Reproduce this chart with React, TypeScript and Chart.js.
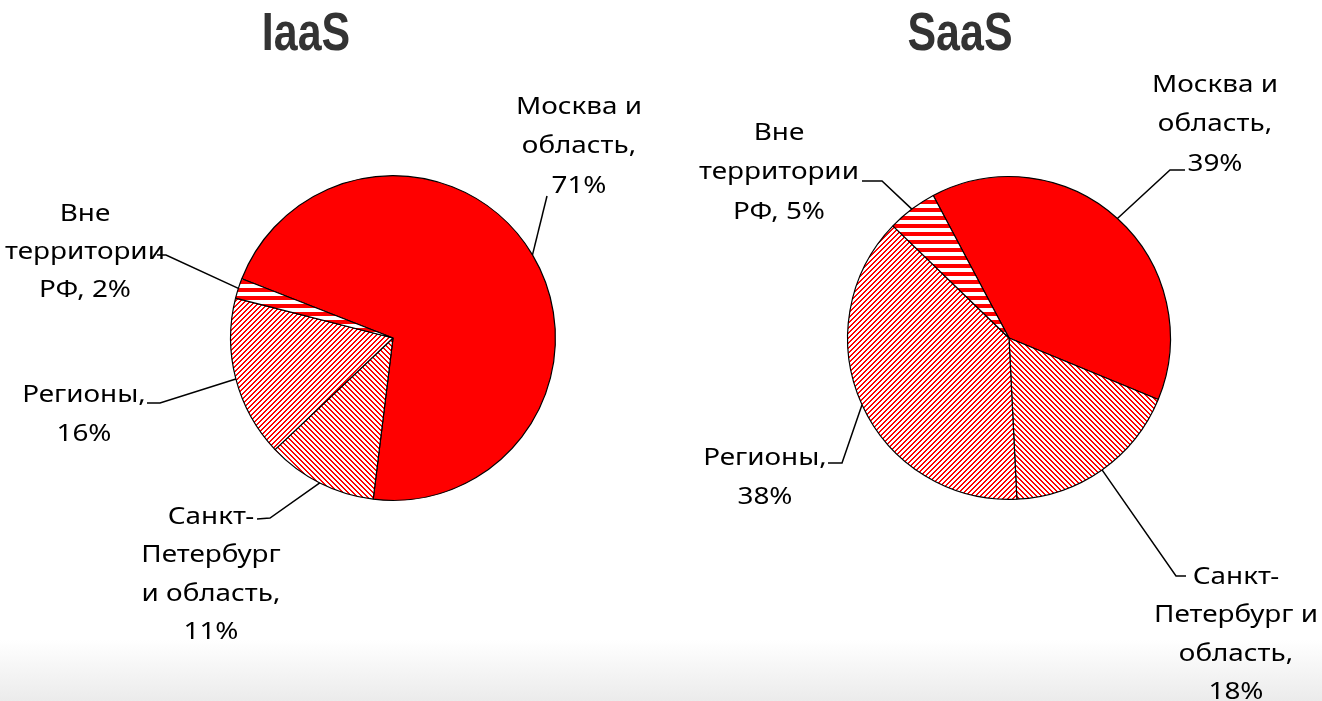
import React, { useEffect, useRef } from 'react';
import { Chart, registerables } from 'chart.js';
Chart.register(...registerables);

// ---- data ----
const categories = ['Москва и область', 'Санкт-Петербург и область', 'Регионы', 'Вне территории РФ'];
const iaasValues = [71, 11, 16, 2];
const saasValues = [39, 18, 38, 5];
const iaasLabelLines = [
  ['Москва и', 'область,', '{v}%'],
  ['Санкт-', 'Петербург', 'и область,', '{v}%'],
  ['Регионы,', '{v}%'],
  ['Вне', 'территории', 'РФ, {v}%'],
];
const saasLabelLines = [
  ['Москва и', 'область,', '{v}%'],
  ['Санкт-', 'Петербург и', 'область,', '{v}%'],
  ['Регионы,', '{v}%'],
  ['Вне', 'территории', 'РФ, {v}%'],
];

// ---- layout (positions / styles) ----
const W = 1322;
const H = 701;
const RED = '#ff0000';
const LABEL_FONT = '24px "Noto Sans"';
const LABEL_REF_TEXT = 'Москва и';
const LABEL_REF_WIDTH = 126;
const TITLE_FONT = 'bold 53px "Liberation Sans"';
const TITLE_SX = 0.81;

type LabelPos = { x: number; ys: number[]; leader: number[][] };
const iaasLayout = {
  title: 'IaaS',
  titleX: 306,
  titleY: 50,
  rotation: -68.6,
  padding: { left: 230, right: W - 556, top: 175, bottom: H - 501 },
  labels: [
    { x: 579, ys: [114, 153, 193], leader: [[547, 196]] },
    { x: 211, ys: [524, 562, 601, 639], leader: [[257, 519], [270, 518]] },
    { x: 84, ys: [402, 441], leader: [[147, 403], [160, 403]] },
    { x: 85, ys: [221, 259, 297], leader: [[157, 255], [166, 255]] },
  ] as LabelPos[],
};
const saasLayout = {
  title: 'SaaS',
  titleX: 960,
  titleY: 50,
  rotation: -28,
  padding: { left: 847, right: W - 1171, top: 176, bottom: H - 500 },
  labels: [
    { x: 1215, ys: [92, 131, 171], leader: [[1185, 170], [1170, 170]] },
    { x: 1236, ys: [584, 622, 661, 699], leader: [[1186, 576], [1176, 576]] },
    { x: 765, ys: [465, 504], leader: [[828, 463], [842, 463]] },
    { x: 779, ys: [140, 179, 219], leader: [[862, 181], [882, 181]] },
  ] as LabelPos[],
};

function makePattern(kind: 'h' | 'up' | 'down'): CanvasPattern | string {
  const c = document.createElement('canvas');
  const n = kind === 'h' ? 8 : 5;
  c.width = n;
  c.height = n;
  const ctx = c.getContext('2d');
  if (!ctx) return RED;
  const img = ctx.createImageData(n, n);
  for (let y = 0; y < n; y++) {
    for (let x = 0; x < n; x++) {
      let red = false;
      if (kind === 'h') red = y < 4;
      else if (kind === 'up') red = (x + y) % n < 2;
      else red = (((x - y) % n) + n) % n < 2;
      const i = (y * n + x) * 4;
      img.data[i] = 255;
      img.data[i + 1] = red ? 0 : 255;
      img.data[i + 2] = red ? 0 : 255;
      img.data[i + 3] = 255;
    }
  }
  ctx.putImageData(img, 0, 0);
  return ctx.createPattern(c, 'repeat') || RED;
}

function drawScaledText(ctx: CanvasRenderingContext2D, text: string, x: number, y: number, sx: number) {
  ctx.save();
  ctx.translate(x, y);
  ctx.scale(sx, 1);
  ctx.fillText(text, 0, 0);
  ctx.restore();
}

function makeChart(canvas: HTMLCanvasElement, values: number[], lines: string[][], layout: typeof iaasLayout) {
  const colors = [RED, makePattern('down'), makePattern('up'), makePattern('h')];
  const labelPlugin = {
    id: 'pieLabels',
    afterDatasetsDraw(chart: any) {
      const ctx: CanvasRenderingContext2D = chart.ctx;
      const meta = chart.getDatasetMeta(0);
      ctx.save();
      // title
      ctx.fillStyle = '#333333';
      ctx.font = TITLE_FONT;
      ctx.textAlign = 'center';
      ctx.textBaseline = 'alphabetic';
      drawScaledText(ctx, layout.title, layout.titleX, layout.titleY, TITLE_SX);
      // labels
      ctx.font = LABEL_FONT;
      const sx = LABEL_REF_WIDTH / ctx.measureText(LABEL_REF_TEXT).width;
      ctx.fillStyle = '#000000';
      meta.data.forEach((arc: any, i: number) => {
        const p = layout.labels[i];
        const v = values[i];
        lines[i].forEach((t, j) => {
          drawScaledText(ctx, t.replace('{v}', String(v)), p.x, p.ys[j], sx);
        });
        const mid = (arc.startAngle + arc.endAngle) / 2;
        const ex = arc.x + Math.cos(mid) * arc.outerRadius;
        const ey = arc.y + Math.sin(mid) * arc.outerRadius;
        ctx.beginPath();
        ctx.strokeStyle = '#000000';
        ctx.lineWidth = 1.5;
        p.leader.forEach((pt, k) => (k === 0 ? ctx.moveTo(pt[0], pt[1]) : ctx.lineTo(pt[0], pt[1])));
        ctx.lineTo(ex, ey);
        ctx.stroke();
      });
      ctx.restore();
    },
  };
  return new Chart(canvas, {
    type: 'pie',
    data: {
      labels: categories,
      datasets: [
        {
          data: values,
          backgroundColor: colors as any,
          borderColor: '#000000',
          borderWidth: 1.2,
        },
      ],
    },
    options: {
      animation: false,
      responsive: false,
      rotation: layout.rotation,
      layout: { padding: layout.padding },
      plugins: { legend: { display: false }, tooltip: { enabled: false }, title: { display: false } },
    },
    plugins: [labelPlugin],
  });
}

export default function App() {
  const leftRef = useRef<HTMLCanvasElement>(null);
  const rightRef = useRef<HTMLCanvasElement>(null);
  useEffect(() => {
    if (!leftRef.current || !rightRef.current) return;
    const c1 = makeChart(leftRef.current, iaasValues, iaasLabelLines, iaasLayout);
    const c2 = makeChart(rightRef.current, saasValues, saasLabelLines, saasLayout);
    return () => {
      c1.destroy();
      c2.destroy();
    };
  }, []);
  const cs: React.CSSProperties = { position: 'absolute', left: 0, top: 0, width: W, height: H };
  return (
    <div style={{ position: 'absolute', left: 0, top: 0, width: W, height: H, background: '#ffffff', overflow: 'hidden' }}>
      <div
        style={{
          position: 'absolute',
          left: 0,
          top: 640,
          width: W,
          height: H - 640,
          background: 'linear-gradient(to bottom, #ffffff, #ebebeb)',
        }}
      />
      <canvas ref={leftRef} width={W} height={H} style={cs} />
      <canvas ref={rightRef} width={W} height={H} style={cs} />
    </div>
  );
}
